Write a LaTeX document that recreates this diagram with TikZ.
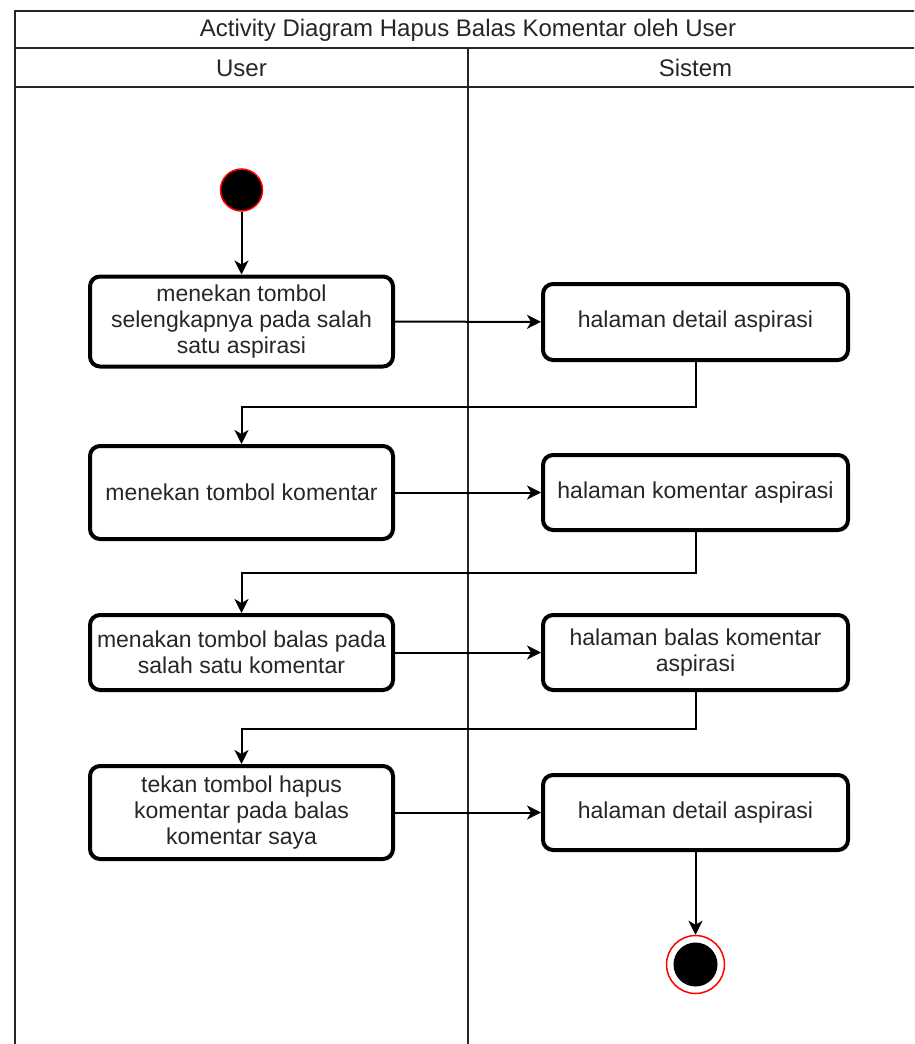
\documentclass[tikz,border=0pt]{standalone}
\usepackage{fontspec}
\setmainfont{Liberation Sans}
\usetikzlibrary{arrows.meta}
\definecolor{txt}{HTML}{262626}
\begin{document}
\begin{tikzpicture}[x=1pt,y=-1pt,
  frame/.style={line width=2pt, draw=black!85},
  act/.style={draw, line width=4pt, rounded corners=10pt, align=center,
    font=\fontsize{23}{26}\selectfont, text=txt, inner sep=2pt},
  head/.style={font=\fontsize{24}{28}\selectfont, text=txt},
  flow/.style={line width=2pt, -{Stealth[length=14pt,width=14pt,inset=4pt]}}]
\useasboundingbox (0,0) rectangle (914,1044);
\clip (0,0) rectangle (914,1044);
% swimlane frame
\draw[frame] (15,11) rectangle (925,1060);
\draw[frame] (15,48) -- (925,48);
\draw[frame] (15,87) -- (925,87);
\draw[frame] (468,48) -- (468,1060);
\node[head] (title) at (468,30) {Activity Diagram Hapus Balas Komentar oleh User};
\node[head] (hu) at (241.5,68) {User};
\node[head] (hs) at (695.5,68) {Sistem};
% start / end
\node[circle, fill=black, draw=red, line width=1.5pt, minimum size=42pt, inner sep=0pt] (start) at (241.5,190) {};
\node[circle, draw=red, line width=1.5pt, minimum size=58pt, inner sep=0pt] (end) at (695.5,964.5) {};
\node[circle, fill=black, minimum size=44pt, inner sep=0pt] (endin) at (695.5,964.5) {};
% user activities
\node[act, minimum width=303pt, minimum height=90pt] (u1) at (241.5,321.5) {menekan tombol\\selengkapnya pada salah\\satu aspirasi};
\node[act, minimum width=303pt, minimum height=93pt] (u2) at (241.5,492.5) {menekan tombol komentar};
\node[act, minimum width=303pt, minimum height=75pt] (u3) at (241.5,652.5) {menakan tombol balas pada\\salah satu komentar};
\node[act, minimum width=303pt, minimum height=93pt] (u4) at (241.5,812.5) {tekan tombol hapus\\komentar pada balas\\komentar saya};
% system activities
\node[act, minimum width=305pt, minimum height=76pt] (s1) at (695.5,322) {halaman detail aspirasi};
\node[act, minimum width=305pt, minimum height=75pt] (s2) at (695.5,492.5) {halaman komentar aspirasi};
\node[act, minimum width=305pt, minimum height=75pt] (s3) at (695.5,652.5) {halaman balas komentar\\aspirasi};
\node[act, minimum width=305pt, minimum height=75pt] (s4) at (695.5,812.5) {halaman detail aspirasi};
% bend coordinates
\coordinate (b1) at (695.5,407);
\coordinate (b2) at (695.5,573);
\coordinate (b3) at (695.5,729);
% connectors
\draw[flow] (start) -- (u1);
\draw[flow] (u1) -- (s1);
\draw[flow] (s1.south) -- (b1) -| (u2.north);
\draw[flow] (u2) -- (s2);
\draw[flow] (s2.south) -- (b2) -| (u3.north);
\draw[flow] (u3) -- (s3);
\draw[flow] (s3.south) -- (b3) -| (u4.north);
\draw[flow] (u4) -- (s4);
\draw[flow] (s4) -- (end);
\end{tikzpicture}
\end{document}
